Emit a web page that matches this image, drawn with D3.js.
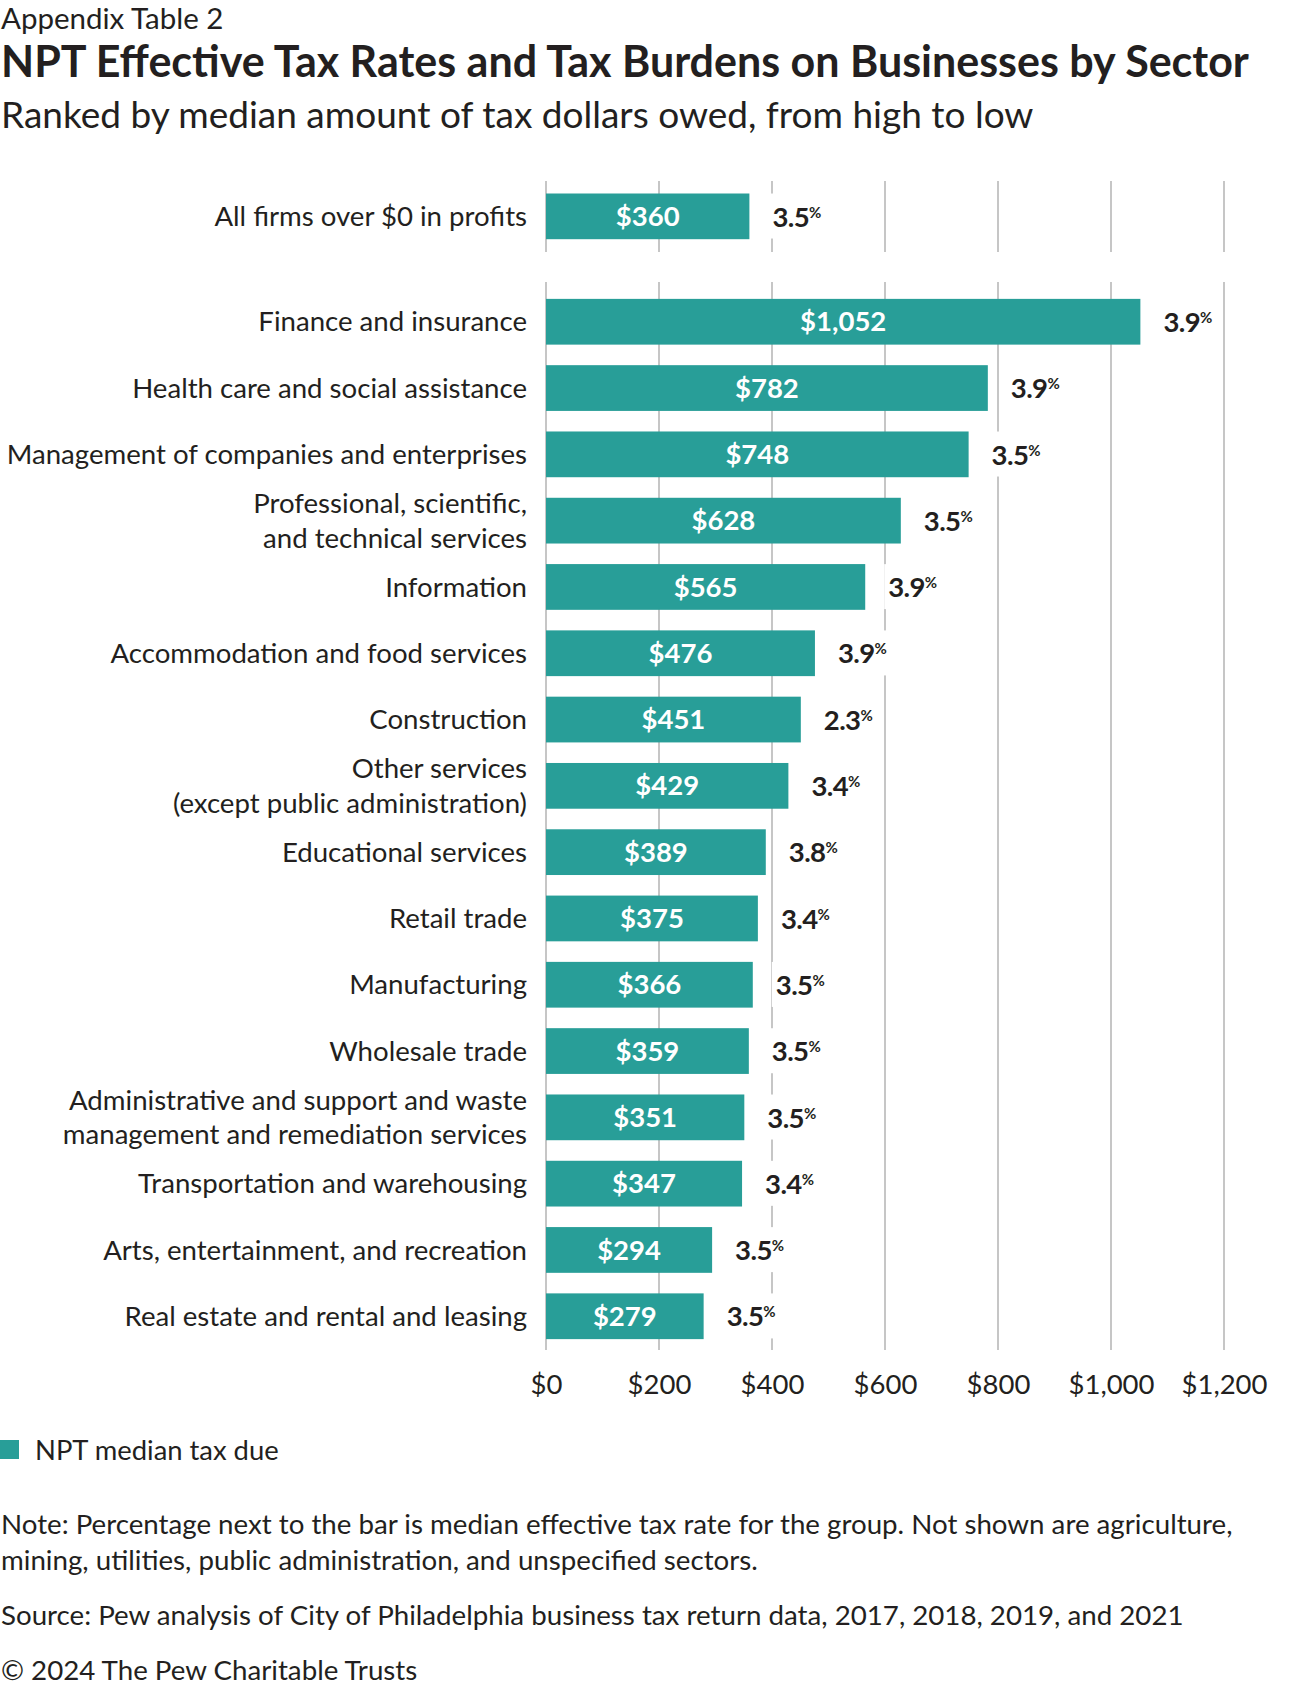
<!DOCTYPE html>
<html lang="en">
<head>
    <title>NPT Effective Tax Rates</title>
    <script src="https://d3js.org/d3.v7.min.js"></script>
    <style>
        body { margin: 0; background: #fff; }
        svg text { font-family: Lato, "Noto Sans", sans-serif; fill: #231f20; }
    </style>
</head>
<body>

<script>
    // data
    const sectors = [
        "Finance and insurance",
        "Health care and social assistance",
        "Management of companies and enterprises",
        "Professional, scientific,\nand technical services",
        "Information",
        "Accommodation and food services",
        "Construction",
        "Other services\n(except public administration)",
        "Educational services",
        "Retail trade",
        "Manufacturing",
        "Wholesale trade",
        "Administrative and support and waste\nmanagement and remediation services",
        "Transportation and warehousing",
        "Arts, entertainment, and recreation",
        "Real estate and rental and leasing"
    ];
    const taxDue = [1052, 782, 748, 628, 565, 476, 451, 429, 389, 375, 366, 359, 351, 347, 294, 279];
    const taxRate = [3.9, 3.9, 3.5, 3.5, 3.9, 3.9, 2.3, 3.4, 3.8, 3.4, 3.5, 3.5, 3.5, 3.4, 3.5, 3.5];

    const allLabel = "All firms over $0 in profits";
    const allDue = 360;
    const allRate = 3.5;

    const xTicks = [0, 200, 400, 600, 800, 1000, 1200];

    const teal = "#289e98";
    const W = 1300, H = 1694;

    const svg = d3.select("body").append("svg").attr("width", W).attr("height", H);

    // titles
    svg.append("text").attr("x", 1).attr("y", 29).style("font-size", "29.5px").text("Appendix Table 2");
    svg.append("text").attr("x", 1).attr("y", 77).style("font-size", "43px").style("font-weight", "bold")
        .text("NPT Effective Tax Rates and Tax Burdens on Businesses by Sector");
    svg.append("text").attr("x", 1).attr("y", 128).style("font-size", "37px")
        .text("Ranked by median amount of tax dollars owed, from high to low");

    const x = d3.scaleLinear().domain([0, 1200]).range([546, 1224]);

    const y = d3.scaleBand().domain(sectors).range([288.6, 1349.4])
        .paddingInner(0.31).paddingOuter(0.155);

    const topY = d3.scaleBand().domain([allLabel]).range([183, 250]).padding(0.0);

    const fmt = d => "$" + d3.format(",")(d);

    // gridlines
    const grid = svg.append("g");
    grid.selectAll("line.top").data(xTicks).join("line").attr("class", "top")
        .attr("x1", d => x(d)).attr("x2", d => x(d)).attr("y1", 181).attr("y2", 252)
        .attr("stroke", "#b3b3b3").attr("stroke-width", 1.5);
    grid.selectAll("line.main").data(xTicks).join("line").attr("class", "main")
        .attr("x1", d => x(d)).attr("x2", d => x(d)).attr("y1", 282).attr("y2", 1350)
        .attr("stroke", "#b3b3b3").attr("stroke-width", 1.5);

    function drawRows(g, rows, yScale, bh, yOff) {
        g.selectAll("rect.bar").data(rows).join("rect").attr("class", "bar")
            .attr("x", x(0)).attr("y", d => yScale(d.name) + yOff)
            .attr("width", d => x(d.value) - x(0)).attr("height", bh)
            .attr("fill", teal);

        g.selectAll("text.val").data(rows).join("text").attr("class", "val")
            .attr("x", d => (x(0) + x(d.value)) / 2)
            .attr("y", d => yScale(d.name) + yOff + bh / 2)
            .attr("dy", "0.35em").attr("text-anchor", "middle")
            .style("font-size", "27.5px").style("font-weight", "bold").style("fill", "#fff")
            .text(d => fmt(d.value));

        const pct = g.selectAll("g.pct").data(rows).join("g").attr("class", "pct");
        pct.each(function (d) {
            const gg = d3.select(this);
            const bg = gg.append("rect").attr("fill", "#fff");
            const t = gg.append("text")
                .attr("x", x(d.value) + 23)
                .attr("y", yScale(d.name) + yOff + bh / 2)
                .attr("dy", "0.37em")
                .style("font-size", "27.5px").style("font-weight", "bold").style("letter-spacing", "-0.6px");
            t.append("tspan").text(d.rate.toFixed(1));
            t.append("tspan").attr("dy", "-0.6em").style("font-size", "15px").text("%");
            const b = t.node().getBBox();
            bg.attr("x", b.x - 4).attr("y", b.y - 6).attr("width", b.width + 8).attr("height", b.height + 12);
        });

        g.selectAll("text.cat").data(rows).join("text").attr("class", "cat")
            .attr("x", 527)
            .attr("y", d => yScale(d.name) + yOff + bh / 2)
            .attr("text-anchor", "end")
            .style("font-size", "27.6px")
            .each(function (d) {
                const lines = d.name.split("\n");
                const t = d3.select(this);
                lines.forEach((ln, i) => {
                    t.append("tspan").attr("x", 527)
                        .attr("dy", i === 0 ? (0.35 - (lines.length - 1) * 0.63) + "em" : "1.26em")
                        .text(ln);
                });
            });
    }

    const topRows = [{ name: allLabel, value: allDue, rate: allRate }];
    drawRows(svg.append("g"), topRows, topY, 45.7, 10.5);

    const rows = sectors.map((s, i) => ({ name: s, value: taxDue[i], rate: taxRate[i] }));
    drawRows(svg.append("g"), rows, y, y.bandwidth(), 0);

    // x axis
    const axis = svg.append("g").attr("transform", "translate(0,1374)")
        .call(d3.axisBottom(x).tickValues(xTicks).tickFormat(fmt).tickSize(0).tickPadding(0));
    axis.select(".domain").remove();
    axis.selectAll("text").style("font-size", "27.5px").style("font-family", "Lato, sans-serif")
        .attr("fill", "#231f20").attr("dy", "0.71em");

    // legend
    svg.append("rect").attr("x", 0).attr("y", 1440).attr("width", 19).attr("height", 19).attr("fill", teal);
    svg.append("text").attr("x", 35).attr("y", 1450).attr("dy", "0.35em").style("font-size", "27.4px")
        .text("NPT median tax due");

    // notes
    const notes = [
        [1534, "Note: Percentage next to the bar is median effective tax rate for the group. Not shown are agriculture,"],
        [1570, "mining, utilities, public administration, and unspecified sectors."],
        [1625, "Source: Pew analysis of City of Philadelphia business tax return data, 2017, 2018, 2019, and 2021"],
        [1680, "\u00a9 2024 The Pew Charitable Trusts"]
    ];
    svg.selectAll("text.note").data(notes).join("text").attr("class", "note")
        .attr("x", 1).attr("y", d => d[0]).style("font-size", "27.7px").text(d => d[1]);
</script>

</body>
</html>
